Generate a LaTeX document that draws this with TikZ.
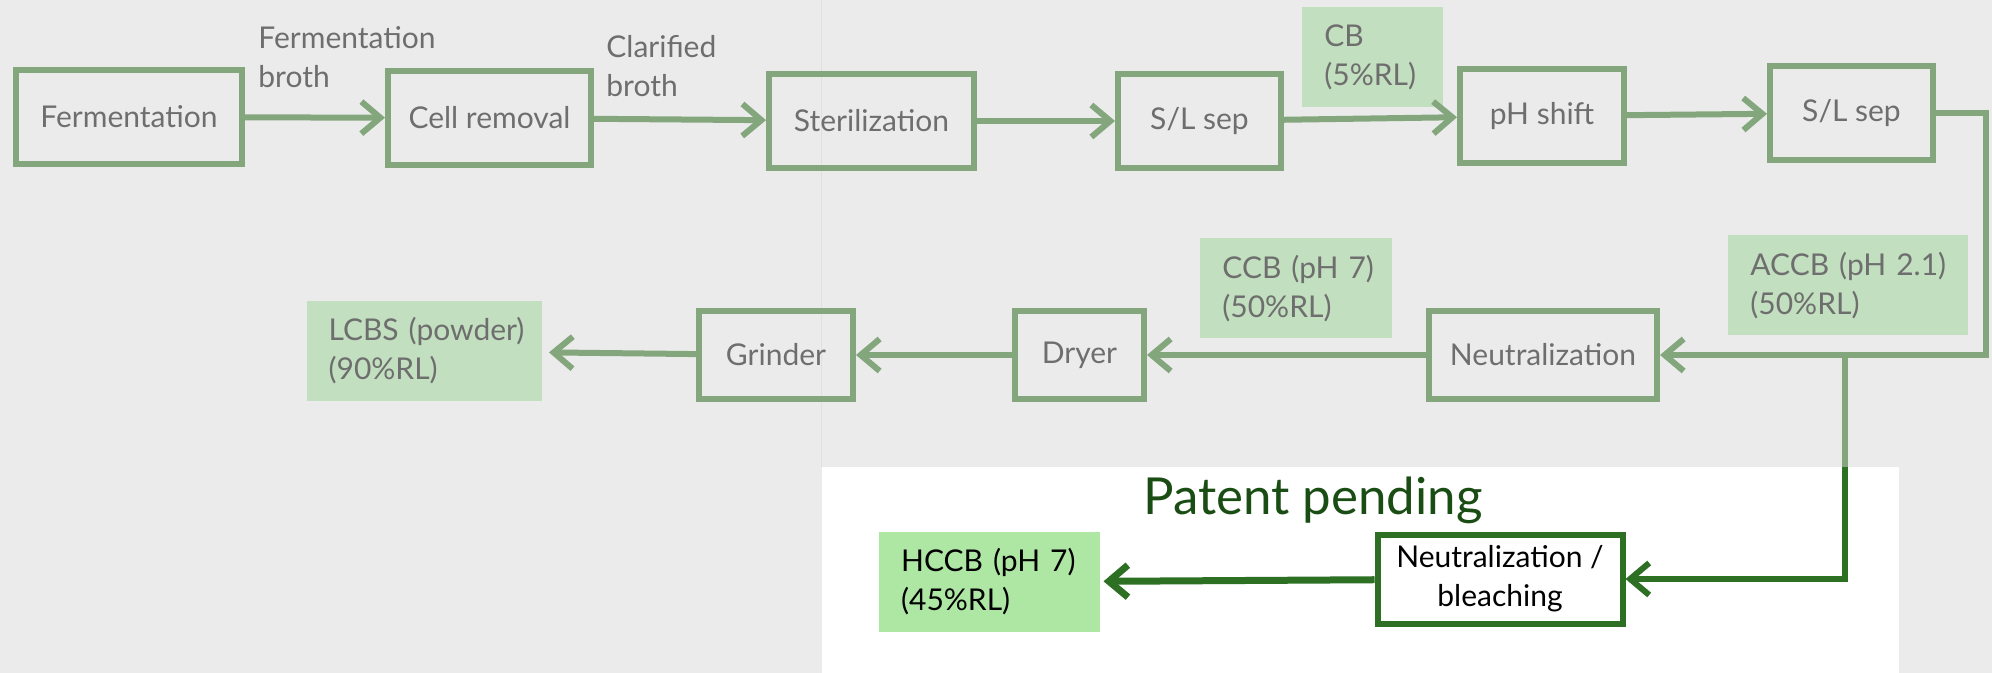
\documentclass[tikz,border=0pt]{standalone}
\usepackage{fontspec}
\setmainfont{Lato}
\usepackage{tikz}
\usetikzlibrary{positioning}
\usetikzlibrary{arrows.meta}
\definecolor{bggray}{HTML}{EBEBEB}
\definecolor{boxgreen}{HTML}{83A67D}
\definecolor{textgray}{HTML}{6E6E6E}
\definecolor{tagfill}{HTML}{C2DFBF}
\definecolor{darkgreen}{HTML}{2D7024}
\definecolor{darktext}{HTML}{1A4D14}
\definecolor{hccbfill}{HTML}{AEE6A3}
\tikzset{
    every node/.style={font=\fontsize{15}{19.5}\selectfont},
    stepbox/.style={ % Sets the properties for each process step
        draw=boxgreen,
        line width=3pt,
        text=textgray,
        minimum height=47pt
    },
    darkbox/.style={ % The patent pending step
        draw=darkgreen,
        line width=3pt,
        fill=white,
        align=center,
        minimum height=44.5pt
    },
    tag/.style={ % Product labels with a coloured background
        fill=tagfill,
        text=textgray,
        inner xsep=11pt,
        minimum height=50pt,
        align=left,
        execute at begin node={\hyphenpenalty=10000}
    },
    flow/.style={
        draw=boxgreen,
        line width=3pt,
        -{Straight Barb[length=9.5pt,width=16pt]}
    },
    darkflow/.style={
        draw=darkgreen,
        line width=3pt,
        -{Straight Barb[length=9.5pt,width=16pt]}
    },
    every edge/.style={flow}
}

\begin{document}
\begin{tikzpicture}[x=0.5pt,y=-0.5pt]
    \fill[bggray] (0,0) rectangle (1992,673);
    \useasboundingbox (0,0) rectangle (1992,673);
    \fill[white] (822,467) rectangle (1899,673);
    \draw[black!12] (821,0) -- (821,467);

    % first row
    \node[stepbox, minimum width=113pt] (ferm) at (129,117) {Fermentation};
    \node[stepbox, minimum width=101.5pt, right=70pt of ferm, yshift=-0.5pt] (cell) {Cell removal};
    \node[stepbox, minimum width=102.5pt, right=86pt of cell, yshift=-1.5pt] (steril) {Sterilization};
    \node[stepbox, minimum width=81.5pt, right=69pt of steril] (sep1) {S/L sep};
    \node[stepbox, minimum width=82pt, right=86.5pt of sep1, yshift=2.5pt] (shift) {pH shift};
    \node[stepbox, minimum width=81.5pt, right=70pt of shift, yshift=1.5pt] (sep2) {S/L sep};

    % second row
    \node[stepbox, minimum width=114pt, minimum height=44pt] (neut) at (1543,355) {Neutralization};
    \node[stepbox, minimum width=64.5pt, minimum height=44pt, left=139.5pt of neut] (dryer) {Dryer};
    \node[stepbox, minimum width=77pt, minimum height=44pt, left=78pt of dryer] (grinder) {Grinder};
    \node[tag, text width=95.5pt, left=77pt of grinder, yshift=2pt] (lcbs) {LCBS~(powder)\\(90\%RL)};

    % patent pending branch
    \node[darkbox, minimum width=122.5pt] (nb) at (1500,579) {Neutralization /\\bleaching};
    \node[tag, fill=hccbfill, text=black, text width=88.5pt, left=137pt of nb, yshift=-1.5pt] (hccb) {HCCB (pH~7)\\(45\%RL)};
    \node[anchor=base, text=darktext, font=\fontsize{25.5}{30}\selectfont] (patent) at (1313,515) {Patent pending};

    % labels
    \node[anchor=west, inner sep=0pt, align=left, text=textgray] (brothlbl) at (258,57) {Fermentation\\broth};
    \node[anchor=west, inner sep=0pt, align=left, text=textgray] (clarlbl) at (606,66) {Clarified\\broth};
    \node[tag, anchor=north west, text width=48.5pt] (cb) at (1302,7) {CB\\(5\%RL)};
    \node[tag, anchor=north west, text width=74pt] (ccb) at (1200,238) {CCB~(pH~7)\\(50\%RL)};
    \node[tag, anchor=north west, text width=98pt] (accb) at (1728,235) {ACCB~(pH~2.1)\\(50\%RL)};

    % connectors
    \draw (ferm) edge (cell) (cell) edge (steril) (steril) edge (sep1)
          (sep1) edge (shift) (shift) edge (sep2);
    \coordinate (corner) at (1986,113);
    \draw[flow] (sep2.east) -- (corner) |- (neut.east);
    \draw (neut) edge (dryer) (dryer) edge (grinder) (grinder) edge[shorten >=3.5pt] (lcbs);
    \coordinate (split) at (1845,355);
    \coordinate (fade) at (1845,467);
    \draw[boxgreen, line width=3pt] (split) -- (fade);
    \draw[darkflow] (fade) |- (nb.east);
    \draw[darkflow, line width=3.5pt, shorten >=1.5pt] (nb) -- (hccb);
\end{tikzpicture}
\end{document}
